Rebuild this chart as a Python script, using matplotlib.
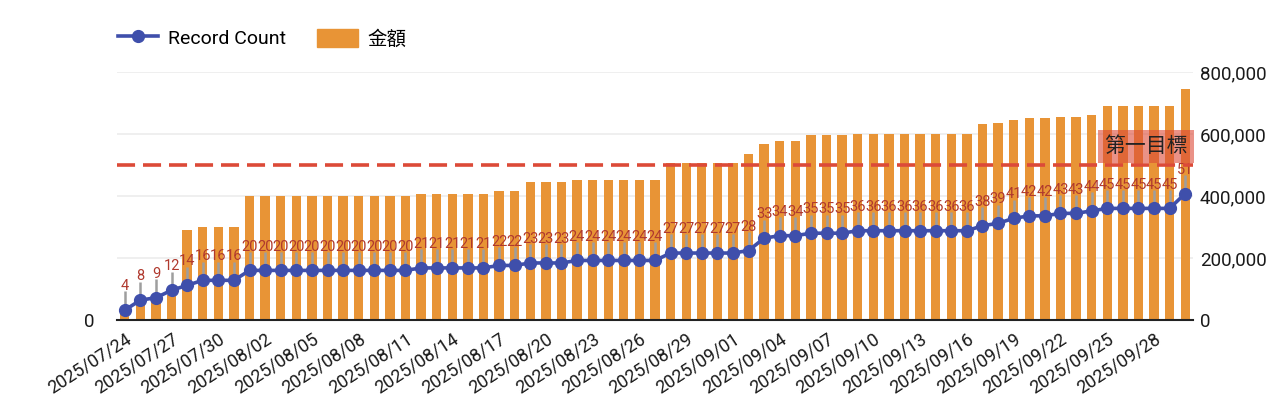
import numpy as np
import pandas as pd
import matplotlib
matplotlib.use('Agg')
import matplotlib.pyplot as plt
from matplotlib.lines import Line2D
from matplotlib.patches import Patch

plt.rcParams['font.family'] = ['Roboto', 'Noto Sans CJK TC', 'DejaVu Sans']

dates = pd.date_range('2025-07-24', '2025-09-30', freq='D')

record_count = [4, 8, 9, 12, 14, 16, 16, 16,
                20, 20, 20, 20, 20, 20, 20, 20, 20, 20, 20,
                21, 21, 21, 21, 21,
                22, 22,
                23, 23, 23,
                24, 24, 24, 24, 24, 24,
                27, 27, 27, 27, 27,
                28, 33, 34, 34, 35, 35, 35,
                36, 36, 36, 36, 36, 36, 36, 36,
                38, 39, 41, 42, 42, 43, 43, 44,
                45, 45, 45, 45, 45, 51]

amount = [24000, 55000, 60000, 82000, 290000, 301000, 301000, 301000,
          401000, 401000, 401000, 401000, 401000, 401000, 401000, 401000, 401000, 401000, 401000,
          406000, 406000, 406000, 406000, 406000,
          416000, 416000,
          446000, 446000, 446000,
          451000, 451000, 451000, 451000, 451000, 451000,
          506000, 506000, 506000, 506000, 506000,
          537000, 567000, 576000, 576000, 597000, 597000, 597000,
          600000, 600000, 600000, 600000, 600000, 600000, 600000, 600000,
          631000, 635000, 645000, 651000, 651000, 656000, 656000, 661000,
          691000, 691000, 691000, 691000, 691000, 746000]

amount_ticks = [0, 200000, 400000, 600000, 800000]
goal = 500000
goal_label = '第一目標'

labels = [d.strftime('%Y/%m/%d') for d in dates]
x = np.arange(len(dates))

bar_color = '#e89436'
line_color = '#3f4fab'
goal_color = '#dc4a38'
label_color = '#b0392e'

fig = plt.figure(figsize=(12.8, 3.96), dpi=100)
ax = fig.add_axes([117/1280, 76/396, 1076/1280, 248/396])
ax2 = ax.twinx()

ax.bar(x, amount, width=0.6, color=bar_color, zorder=2)
ax.set_ylim(0, 800000)
ax.set_xlim(-0.5, len(x) - 0.5)
ax.set_yticks(amount_ticks)
ax.set_yticklabels([f'{v:,}' for v in amount_ticks])
ax.yaxis.tick_right()
ax.tick_params(axis='y', length=0, pad=5, labelsize=13.5, labelcolor='#1a1a1a')
ax.grid(axis='y', color='#ececec', lw=1.2, zorder=0)
ax.set_xticks(x[::3])
ax.set_xticklabels(labels[::3], rotation=33, ha='right', rotation_mode='anchor', fontsize=13, color='#1a1a1a')
ax.tick_params(axis='x', length=0, pad=7)
for s in ['top', 'left', 'right']:
    ax.spines[s].set_visible(False)
ax.spines['bottom'].set_color('#222222')
ax.spines['bottom'].set_linewidth(1.5)
ax.spines['bottom'].set_zorder(5)

ax2.set_ylim(0, 100)
ax2.yaxis.tick_left()
ax2.set_yticks([0])
ax2.tick_params(axis='y', length=0, pad=16, labelsize=13.5, labelcolor='#1a1a1a')
for s in ['top', 'left', 'right', 'bottom']:
    ax2.spines[s].set_visible(False)

rc = np.array(record_count)
ax2.vlines(x, rc, rc + 7.5, color='#9e9e9e', lw=1.8, zorder=2)
ax2.plot(x, rc, color=line_color, lw=2.6, marker='o', ms=8.5, zorder=3)
for xi, c in zip(x, rc):
    ax2.text(xi, c + 8, str(c), ha='center', va='baseline', fontsize=10.5, color=label_color, zorder=4)

# goal line drawn in amount units on top of everything
ax2.plot([-0.5, len(x) - 0.5], [goal, goal], transform=ax.transData, color=goal_color,
         lw=2.6, dashes=(5, 2.2), zorder=5)
ax2.text(len(x) - 0.85, goal + 28000, goal_label, transform=ax.transData, ha='right', va='bottom',
         fontsize=15, color='#222222', zorder=6,
         bbox=dict(boxstyle='square,pad=0.3', fc=goal_color, ec='none', alpha=0.6))

handles = [Line2D([], [], color=line_color, lw=2.6, marker='o', ms=8.5),
           Patch(color=bar_color)]
fig.legend(handles, ['Record Count', '金額'], loc='upper left', bbox_to_anchor=(100/1280, 1 - 11/396),
           ncol=2, frameon=False, fontsize=14, handlelength=2.1, handleheight=1.1,
           columnspacing=1.6, handletextpad=0.5)

fig.savefig('out.png', dpi=100)
